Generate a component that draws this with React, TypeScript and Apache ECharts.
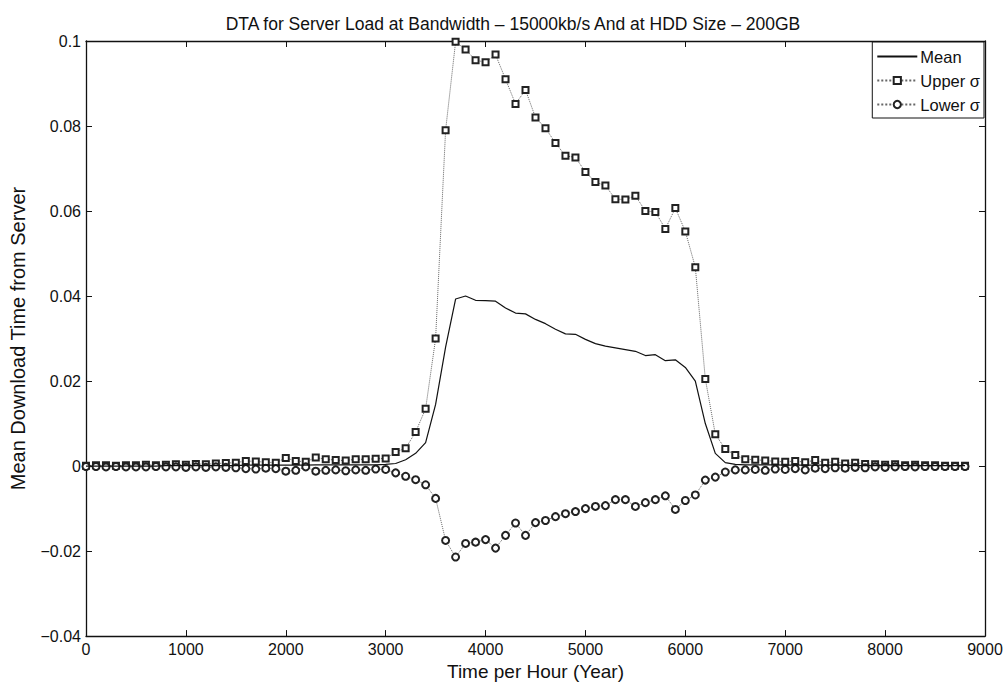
import React, { useEffect, useRef } from "react";
import * as echarts from "echarts";

const titleText = "DTA for Server Load at Bandwidth – 15000kb/s And at HDD Size – 200GB";
const xAxisName = "Time per Hour (Year)";
const yAxisName = "Mean Download Time from Server";
const seriesNames = ["Mean", "Upper σ", "Lower σ"];

// hours 0..8800 step 100
const hours: number[] = [
  0, 100, 200, 300, 400, 500, 600, 700, 800, 900,
  1000, 1100, 1200, 1300, 1400, 1500, 1600, 1700, 1800, 1900,
  2000, 2100, 2200, 2300, 2400, 2500, 2600, 2700, 2800, 2900,
  3000, 3100, 3200, 3300, 3400, 3500, 3600, 3700, 3800, 3900,
  4000, 4100, 4200, 4300, 4400, 4500, 4600, 4700, 4800, 4900,
  5000, 5100, 5200, 5300, 5400, 5500, 5600, 5700, 5800, 5900,
  6000, 6100, 6200, 6300, 6400, 6500, 6600, 6700, 6800, 6900,
  7000, 7100, 7200, 7300, 7400, 7500, 7600, 7700, 7800, 7900,
  8000, 8100, 8200, 8300, 8400, 8500, 8600, 8700, 8800,
];

const meanValues: number[] = [
  0.0, 0.0, 0.0, 0.0, 0.0, 0.0, 0.0, 0.0, 0.0001, 0.0001,
  0.0001, 0.0001, 0.0001, 0.0001, 0.0001, 0.0001, 0.0002, 0.0002, 0.0002, 0.0002,
  0.0002, 0.0002, 0.0002, 0.0003, 0.0003, 0.0003, 0.0003, 0.0003, 0.0003, 0.0003,
  0.0004, 0.0006, 0.0015, 0.003, 0.0055, 0.0145, 0.028, 0.0393, 0.04, 0.039,
  0.0389, 0.0388, 0.0372, 0.036, 0.0358, 0.0345, 0.0335, 0.0322, 0.0311, 0.031,
  0.0298, 0.0288, 0.0282, 0.0278, 0.0274, 0.027, 0.026, 0.0262, 0.0248, 0.025,
  0.0232, 0.02, 0.01, 0.003, 0.0008, 0.0004, 0.0003, 0.0003, 0.0003, 0.0003,
  0.0002, 0.0002, 0.0002, 0.0002, 0.0002, 0.0002, 0.0002, 0.0001, 0.0001, 0.0001,
  0.0001, 0.0001, 0.0001, 0.0001, 0.0001, 0.0001, 0.0001, 0.0001, 0.0001,
];

const upperValues: number[] = [
  0.0001, 0.0002, 0.0002, 0.0001, 0.0002, 0.0002, 0.0003, 0.0002, 0.0003, 0.0004,
  0.0003, 0.0005, 0.0004, 0.0006, 0.0007, 0.0008, 0.0012, 0.0011, 0.0009, 0.0008,
  0.0019, 0.0012, 0.001, 0.002, 0.0016, 0.0014, 0.0013, 0.0016, 0.0016, 0.0017,
  0.0018, 0.0033, 0.0042, 0.008, 0.0135, 0.03, 0.079, 0.0998, 0.098, 0.0955,
  0.095, 0.0968, 0.091, 0.0852, 0.0885, 0.082, 0.0795, 0.076, 0.073, 0.0726,
  0.0692, 0.0668, 0.066, 0.0628, 0.0627, 0.0636, 0.06, 0.0598, 0.0558, 0.0607,
  0.0552, 0.0468, 0.0205, 0.0075, 0.004, 0.0026, 0.0016, 0.0015, 0.0013, 0.0011,
  0.001, 0.0012, 0.0009, 0.0014, 0.0008, 0.001, 0.0006, 0.0008, 0.0005, 0.0004,
  0.0003, 0.0004, 0.0002, 0.0003, 0.0002, 0.0002, 0.0001, 0.0001, 0.0001,
];

const lowerValues: number[] = [
  -0.0001, -0.0001, -0.0002, -0.0001, -0.0002, -0.0002, -0.0002, -0.0001, -0.0002, -0.0002,
  -0.0003, -0.0002, -0.0003, -0.0002, -0.0003, -0.0004, -0.0006, -0.0007, -0.0005, -0.0006,
  -0.0012, -0.001, -0.0002, -0.0012, -0.001, -0.0009, -0.0011, -0.0009, -0.001, -0.0007,
  -0.0008, -0.0016, -0.0024, -0.0032, -0.0044, -0.0076, -0.0175, -0.0214, -0.0182, -0.0179,
  -0.0173, -0.0193, -0.0163, -0.0134, -0.0163, -0.0133, -0.0128, -0.0119, -0.0112, -0.0107,
  -0.01, -0.0095, -0.0093, -0.0079, -0.0079, -0.0095, -0.0086, -0.0079, -0.007, -0.0102,
  -0.0081, -0.0068, -0.0033, -0.0026, -0.0014, -0.0009, -0.0009, -0.0008, -0.001, -0.0007,
  -0.0008, -0.0006, -0.0009, -0.0005, -0.0006, -0.0004, -0.0005, -0.0003, -0.0004, -0.0002,
  -0.0003, -0.0002, -0.0001, -0.0002, -0.0001, -0.0001, -0.0001, -0.0001, -0.0001,
];

const pair = (ys: number[]) => hours.map((h, i) => [h, ys[i]]);

const FONT = "'Liberation Sans', Arial, Helvetica, sans-serif";

export default function App() {
  const ref = useRef<HTMLDivElement>(null);
  useEffect(() => {
    if (!ref.current) return;
    const chart = echarts.init(ref.current, null, { renderer: "svg" });
    const axisLine = { show: true, onZero: false, lineStyle: { color: "#111", width: 1.3 } };
    const axisTick = { show: true, inside: true, length: 6, lineStyle: { color: "#111" } };
    const axisCommon = {
      min: 0,
      max: 9000,
      interval: 1000,
      splitLine: { show: false },
      axisLine,
      axisTick,
    };
    const yCommon = {
      min: -0.04,
      max: 0.1,
      interval: 0.02,
      splitLine: { show: false },
      axisLine,
      axisTick,
    };
    chart.setOption({
      animation: false,
      backgroundColor: "#fff",
      textStyle: { fontFamily: FONT },
      title: {
        text: titleText,
        left: 508,
        textAlign: "center",
        top: 10,
        textStyle: { fontFamily: FONT, fontSize: 17.5, fontWeight: "normal", color: "#111" },
      },
      grid: { left: 85, right: 23, top: 41, bottom: 45 },
      legend: {
        data: [
          { name: seriesNames[0], itemStyle: { opacity: 0 } },
          { name: seriesNames[1] },
          { name: seriesNames[2] },
        ],
        orient: "vertical",
        right: 24,
        top: 42,
        itemWidth: 40,
        itemHeight: 9,
        itemGap: 7,
        padding: [6, 4, 5, 4],
        borderColor: "#111",
        borderWidth: 1,
        backgroundColor: "#fff",
        textStyle: { fontFamily: FONT, fontSize: 16.5, color: "#111", padding: [0, 0, 0, -2] },
      },
      xAxis: [
        {
          type: "value",
          ...axisCommon,
          name: xAxisName,
          nameLocation: "middle",
          nameGap: 25,
          nameTextStyle: { fontFamily: FONT, fontSize: 19, color: "#111" },
          axisLabel: {
            fontFamily: FONT,
            fontSize: 16,
            color: "#111",
            margin: 5,
            formatter: (v: number) => String(v),
          },
        },
        {
          type: "value",
          position: "top",
          ...axisCommon,
          axisLabel: { show: false },
        },
      ],
      yAxis: [
        {
          type: "value",
          ...yCommon,
          name: yAxisName,
          nameLocation: "middle",
          nameGap: 58,
          nameTextStyle: { fontFamily: FONT, fontSize: 20, color: "#111" },
          axisLabel: {
            fontFamily: FONT,
            fontSize: 16,
            color: "#111",
            margin: 5,
            formatter: (v: number) => {
              const r = parseFloat(v.toFixed(2));
              return r < 0 ? "−" + String(-r) : String(r);
            },
          },
        },
        {
          type: "value",
          position: "right",
          ...yCommon,
          axisLabel: { show: false },
        },
      ],
      series: [
        {
          name: seriesNames[0],
          type: "line",
          data: pair(meanValues),
          showSymbol: false,
          symbol: "none",
          lineStyle: { color: "#111", width: 1.2 },
          itemStyle: { color: "#111" },
          z: 3,
        },
        {
          name: seriesNames[1],
          type: "line",
          data: pair(upperValues),
          symbol: "emptyRect",
          symbolSize: 6,
          lineStyle: { color: "#666", width: 1, type: "dotted" },
          itemStyle: { color: "#222", borderColor: "#222", borderWidth: 1 },
          z: 2,
        },
        {
          name: seriesNames[2],
          type: "line",
          data: pair(lowerValues),
          symbol: "emptyCircle",
          symbolSize: 7,
          lineStyle: { color: "#666", width: 1, type: "dotted" },
          itemStyle: { color: "#222", borderColor: "#222", borderWidth: 1 },
          z: 2,
        },
      ],
    });
    return () => chart.dispose();
  }, []);
  return (
    <div
      ref={ref}
      style={{ position: "absolute", left: 0, top: 0, width: 1008, height: 686 }}
    />
  );
}
